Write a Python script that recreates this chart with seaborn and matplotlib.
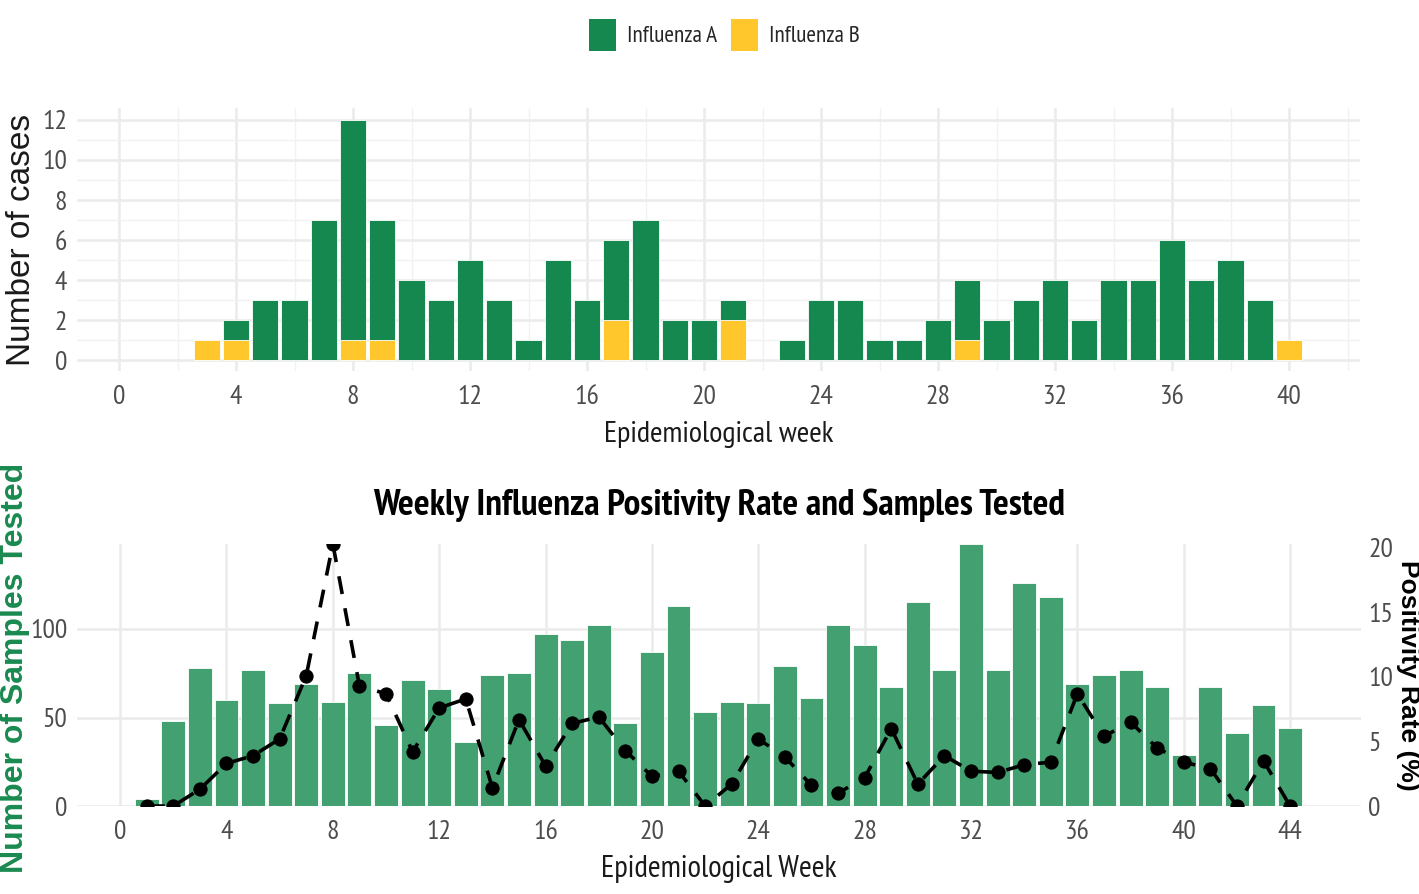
import matplotlib
matplotlib.use("Agg")
import pandas as pd
import matplotlib.pyplot as plt
import seaborn as sns
from matplotlib import font_manager as fm
from matplotlib.patches import Patch
from matplotlib.ticker import MultipleLocator, FixedLocator

# -------------------- DATA --------------------
# weekly confirmed cases (top panel), weeks 3..40
case_weeks = list(range(3, 41))
flu_a = [0, 1, 3, 3, 7, 11, 6, 4, 3, 5, 3, 1, 5, 3, 4, 7, 2, 2, 1, 0,
         1, 3, 3, 1, 1, 2, 3, 2, 3, 4, 2, 4, 4, 6, 4, 5, 3, 0]
flu_b = [1, 1, 0, 0, 0, 1, 1, 0, 0, 0, 0, 0, 0, 0, 2, 0, 0, 0, 2, 0,
         0, 0, 0, 0, 0, 0, 1, 0, 0, 0, 0, 0, 0, 0, 0, 0, 0, 1]

# samples tested and positivity rate (bottom panel), weeks 1..44
sample_weeks = list(range(1, 45))
samples = [4, 48, 78, 60, 77, 58, 69, 59, 75, 46, 71, 66, 36, 74, 75, 97,
           94, 102, 47, 87, 113, 53, 59, 58, 79, 61, 102, 91, 67, 115, 77,
           148, 77, 126, 118, 69, 74, 77, 67, 29, 67, 41, 57, 44]
positivity = [0, 0, 1.3, 3.3, 3.9, 5.2, 10.1, 20.3, 9.3, 8.7, 4.2, 7.6, 8.3,
              1.4, 6.7, 3.1, 6.4, 6.9, 4.3, 2.3, 2.7, 0, 1.7, 5.2, 3.8, 1.6,
              1.0, 2.2, 6.0, 1.7, 3.9, 2.7, 2.6, 3.2, 3.4, 8.7, 5.4, 6.5, 4.5,
              3.4, 2.9, 0, 3.5, 0]

GREEN = "#15884F"
YELLOW = "#FFC72C"
BAR_GREEN = "#43A070"
GRID = "#EBEBEB"
TICK = "#4D4D4D"

# -------------------- STYLE --------------------
sns.set_theme(style="whitegrid")

# narrow font for ticks/title (original uses an Arial Narrow style theme)
installed = {f.name for f in fm.fontManager.ttflist}
narrow_font = "Liberation Sans"
for cand in ["Liberation Sans Narrow", "Arial Narrow", "PT Sans Narrow",
             "Roboto Condensed", "Archivo Narrow", "Barlow Semi Condensed"]:
    if cand in installed:
        narrow_font = cand
        break
narrow = [narrow_font, "Liberation Sans", "DejaVu Sans"]
plain = ["Liberation Sans", "DejaVu Sans"]
plt.rcParams["font.family"] = narrow

fig = plt.figure(figsize=(14.19, 8.94), dpi=100)


def fit_width(txt, target_px):
    # scale a text's font size so it spans target_px pixels
    r = fig.canvas.get_renderer()
    w = txt.get_window_extent(r).width
    txt.set_fontsize(txt.get_fontsize() * target_px / w)


def style_axes(ax, ypad=7):
    for s in ax.spines.values():
        s.set_visible(False)
    ax.tick_params(which="both", length=0, labelsize=20, colors=TICK)
    ax.tick_params(axis="x", pad=10)
    ax.tick_params(axis="y", pad=ypad)
    ax.set_axisbelow(True)


# -------------------- TOP: CASES --------------------
ax1 = fig.add_axes([0.0543, 0.5850, 0.9042, 0.2942])
cases = pd.DataFrame({"week": case_weeks, "A": flu_a, "B": flu_b})
cases["total"] = cases["A"] + cases["B"]

# Influenza B sits at the bottom of each stack, A on top of it
sns.barplot(data=cases[cases["total"] > 0], x="week", y="total",
            native_scale=True, width=0.9, color=GREEN, saturation=1,
            edgecolor="white", linewidth=0.6, errorbar=None, ax=ax1)
sns.barplot(data=cases[cases["B"] > 0], x="week", y="B",
            native_scale=True, width=0.9, color=YELLOW, saturation=1,
            edgecolor="white", linewidth=0.6, errorbar=None, ax=ax1)

ax1.set_xlim(-1.436, 42.43)
ax1.set_ylim(-0.55, 12.6)
ax1.xaxis.set_major_locator(MultipleLocator(4))
ax1.xaxis.set_minor_locator(MultipleLocator(2))
ax1.yaxis.set_major_locator(MultipleLocator(2))
ax1.yaxis.set_minor_locator(MultipleLocator(1))
ax1.grid(which="major", color=GRID, linewidth=1.8)
ax1.grid(which="minor", color="#F2F2F2", linewidth=1.0)
style_axes(ax1)
ax1.set_ylabel("")
ax1.set_xlabel("Epidemiological week", fontsize=21, color="#1A1A1A", labelpad=9)
fit_width(ax1.xaxis.label, 230)

# -------------------- BOTTOM: SAMPLES + POSITIVITY --------------------
ax2 = fig.add_axes([0.0543, 0.0984, 0.9049, 0.2931])
sns.barplot(x=sample_weeks, y=samples, native_scale=True, width=0.9,
            color=BAR_GREEN, saturation=1, edgecolor="white", linewidth=0.6,
            errorbar=None, ax=ax2)
ax2.set_xlim(-1.62, 46.67)
ax2.set_ylim(0, 148)
ax2.xaxis.set_major_locator(MultipleLocator(4))
ax2.yaxis.set_major_locator(FixedLocator([0, 50, 100]))
ax2.grid(which="major", color=GRID, linewidth=1.8)
style_axes(ax2)
ax2.set_ylabel("")
ax2.set_xlabel("Epidemiological Week", fontsize=21, color="#1A1A1A", labelpad=8)
fit_width(ax2.xaxis.label, 236)
title = ax2.set_title("Weekly Influenza Positivity Rate and Samples Tested",
                      fontsize=22, fontweight="bold", pad=21, color="black")
fit_width(title, 690)

ax3 = ax2.twinx()
sns.lineplot(x=sample_weeks, y=positivity, ax=ax3, color="black",
             linestyle="--", linewidth=2.6, marker="o", markersize=9.5,
             markeredgecolor="black")
ax3.lines[0].set_dashes([5, 4])
ax3.set_ylim(0, 20.3)
ax3.yaxis.set_major_locator(FixedLocator([0, 5, 10, 15, 20]))
ax3.grid(False)
style_axes(ax3, ypad=5)
ax3.set_ylabel("")

# -------------------- LABELS & LEGEND --------------------
fig.text(22 / 1419, 1 - 240 / 894, "Number of cases", rotation=90,
         ha="center", va="center", fontsize=24, family=plain, color="#1A1A1A")
fig.text(15 / 1419, 1 - 668 / 894, "Number of Samples Tested", rotation=90,
         ha="center", va="center", fontsize=23, family=plain,
         fontweight="bold", color="#1A8A50")
fig.text(1408 / 1419, 1 - 675 / 894, "Positivity Rate (%)", rotation=270,
         ha="center", va="center", fontsize=19, family=plain,
         fontweight="bold", color="black")

# legend text sized to the original label width
probe = fig.text(0, 0, "Influenza A", fontsize=20)
fit_width(probe, 90)
leg_size = probe.get_fontsize()
probe.remove()
fs_px = leg_size * 100 / 72

handles = [Patch(facecolor=GREEN, edgecolor="none"),
           Patch(facecolor=YELLOW, edgecolor="none")]
fig.legend(handles, ["Influenza A", "Influenza B"], loc="center",
           bbox_to_anchor=(0.5106, 0.961), ncol=2, frameon=False,
           fontsize=leg_size, handlelength=27 / fs_px, handleheight=41 / fs_px,
           handletextpad=11 / fs_px, columnspacing=14 / fs_px)

fig.savefig("out.png", dpi=100)
